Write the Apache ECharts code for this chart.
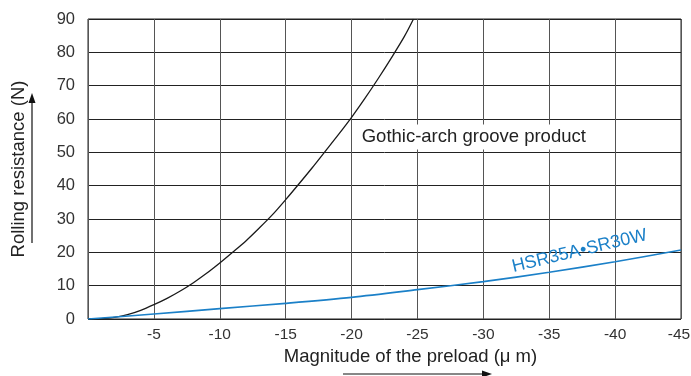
<!DOCTYPE html>
<html><head><meta charset="utf-8">
<script src="https://cdn.jsdelivr.net/npm/echarts@6/dist/echarts.min.js"></script>
<style>html,body{margin:0;padding:0;background:#fff}#c{width:691px;height:376px}</style>
</head><body><div id="c"></div>
<script>
// Data (x: preload in µm, y: rolling resistance in N)
const gothicX = [0, -1, -2, -3, -4, -5, -6, -7, -8, -9, -10, -11, -12, -13, -14, -15, -16, -17, -18, -19, -20, -21, -22, -23, -24, -24.7];
const gothicY = [0, 0.1, 0.5, 1.3, 2.6, 4.3, 6.2, 8.4, 10.9, 13.7, 16.8, 20.1, 23.5, 27.3, 31.3, 35.8, 40.5, 45.3, 50.3, 55.3, 60.5, 66.1, 72, 78.2, 84.7, 90];
const hsrX = [0, -5, -10, -15, -20, -25, -30, -35, -40, -45];
const hsrY = [0, 1.5, 3.1, 4.7, 6.5, 8.8, 11.2, 14, 17.2, 20.7];
const xTicks = [0, -5, -10, -15, -20, -25, -30, -35, -40, -45];
const yTicks = [0, 10, 20, 30, 40, 50, 60, 70, 80, 90];
const gothicLabel = 'Gothic-arch groove product';
const hsrLabel = 'HSR35A\u2022SR30W';
const xName = 'Magnitude of the preload (\u03bc m)';
const yName = 'Rolling resistance (N)';

const font = 'Liberation Sans, Arial, sans-serif';
const chart = echarts.init(document.getElementById('c'), null, {renderer: 'canvas'});
const zip = (xs, ys) => xs.map((x, i) => [x, ys[i]]);
chart.setOption({
  animation: false,
  grid: {left: 88, right: 10, top: 19, bottom: 57, show: true, borderColor: '#222', borderWidth: 1,
    containLabel: false, outerBoundsMode: 'none'},
  xAxis: {
    type: 'value', inverse: true, min: -45, max: 0, interval: 5,
    axisLine: {show: false}, axisTick: {show: false},
    splitLine: {show: true, lineStyle: {color: '#555', width: 1}},
    axisLabel: {color: '#333', fontSize: 15.5, fontFamily: font, margin: 8,
      formatter: v => (v === 0 ? '' : (v === -45 ? '{r|' + v + '}' : String(v))),
      rich: {r: {color: '#333', fontSize: 15.5, fontFamily: font, padding: [0, 4, 0, 0]}}},
    name: xName, nameLocation: 'middle', nameGap: 28,
    nameTextStyle: {color: '#222', fontSize: 18.5, fontFamily: font, padding: [0, 0, 0, 52]}
  },
  yAxis: {
    type: 'value', min: 0, max: 90, interval: 10,
    axisLine: {show: false}, axisTick: {show: false},
    splitLine: {show: true, lineStyle: {color: '#222', width: 1}},
    axisLabel: {color: '#333', fontSize: 16.5, fontFamily: font, margin: 13},
    name: yName, nameLocation: 'middle', nameGap: 60, nameRotate: 90,
    nameTextStyle: {color: '#222', fontSize: 18.5, fontFamily: font}
  },
  series: [
    {
      type: 'line', data: zip(gothicX, gothicY), smooth: 0.3, symbol: 'none',
      lineStyle: {color: '#1a1a1a', width: 1.3}, z: 3,
      markPoint: {
        symbol: 'rect', symbolSize: 0, silent: true,
        data: [{coord: [-29.2, 54.6], value: gothicLabel,
          label: {show: true, formatter: gothicLabel, color: '#222', fontSize: 18.5, fontFamily: font,
            backgroundColor: '#fff', padding: [3, 4, 3, 6], position: 'inside'}}]
      }
    },
    {
      type: 'line', data: zip(hsrX, hsrY), smooth: 0.3, symbol: 'none',
      lineStyle: {color: '#1b80c8', width: 1.6}, z: 3,
      markPoint: {
        symbol: 'rect', symbolSize: 0, silent: true,
        data: [{coord: [-37.3, 20.4], value: hsrLabel,
          label: {show: true, formatter: hsrLabel, color: '#1b80c8', fontSize: 18, fontFamily: font,
            rotate: 13.5, position: 'inside'}}]
      }
    }
  ],
  graphic: [
    {type: 'line', shape: {x1: 32, y1: 243, x2: 32, y2: 100}, style: {stroke: '#111', lineWidth: 1.2}},
    {type: 'polygon', shape: {points: [[32, 93], [28.5, 103], [35.5, 103]]}, style: {fill: '#111'}},
    {type: 'line', shape: {x1: 343, y1: 374, x2: 483, y2: 374}, style: {stroke: '#111', lineWidth: 1.2}},
    {type: 'polygon', shape: {points: [[492, 374], [482, 370.5], [482, 377.5]]}, style: {fill: '#111'}}
  ]
});
</script></body></html>
